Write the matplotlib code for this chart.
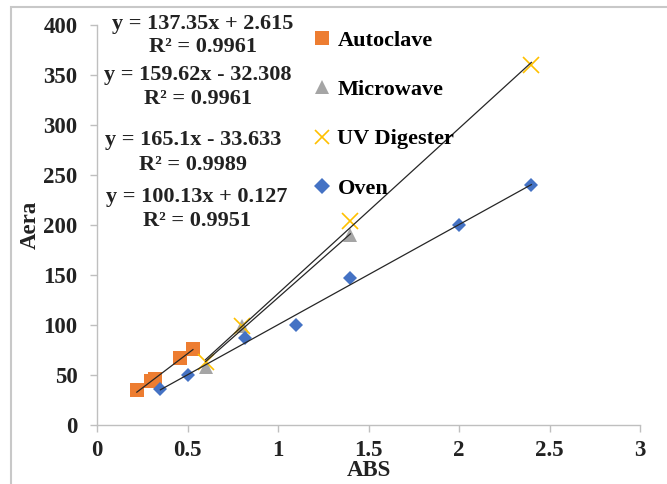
import matplotlib.pyplot as plt
import matplotlib.patches as patches
import numpy as np

# data
autoclave_x = [0.22, 0.30, 0.32, 0.46, 0.53]
autoclave_y = [35, 44, 46, 67, 76]
microwave_x = [0.6, 0.8, 1.4]
microwave_y = [58, 99, 190]
uv_x = [0.6, 0.8, 1.4, 2.4]
uv_y = [63, 99, 204, 360]
oven_x = [0.35, 0.5, 0.82, 1.1, 1.4, 2.0, 2.4]
oven_y = [36, 50, 87, 100, 147, 200, 240]

# trendline coefficients (slope, intercept, r2) as printed
fits = {
    "Autoclave": (137.35, 2.615, 0.9961),
    "Microwave": (159.62, -32.308, 0.9961),
    "UV Digester": (165.1, -33.633, 0.9989),
    "Oven": (100.13, 0.127, 0.9951),
}

plt.rcParams['font.family'] = 'Liberation Serif'
plt.rcParams['font.weight'] = 'bold'
FS = 16

W, H = 667, 484
fig = plt.figure(figsize=(W / 100, H / 100), dpi=100)
ax = fig.add_axes([97 / W, 1 - 425 / H, (640 - 97) / W, (425 - 25) / H])

series = [
    ("Autoclave", autoclave_x, autoclave_y, 's', '#ED7D31', 10),
    ("Microwave", microwave_x, microwave_y, '^', '#A5A5A5', 9.5),
    ("UV Digester", uv_x, uv_y, 'x', '#FFC000', 11),
    ("Oven", oven_x, oven_y, 'D', '#4472C4', 7.5),
]

for name, xs, ys, m, c, ms in series:
    ax.plot(xs, ys, linestyle='none', marker=m, color=c, markersize=ms,
            markeredgewidth=1.2 if m == 'x' else 0, label=name, zorder=3)

for name, xs, ys, m, c, ms in series:
    a, b, r2 = fits[name]
    xx = np.array([min(xs), max(xs)])
    ax.plot(xx, a * xx + b, color='#262626', linewidth=0.9, zorder=4)

ax.set_xlim(0, 3)
ax.set_ylim(0, 400)
ax.set_xticks(np.arange(0, 3.01, 0.5))
ax.set_xticklabels(['0', '0.5', '1', '1.5', '2', '2.5', '3'])
ax.set_yticks(np.arange(0, 401, 50))
for s in ['top', 'right']:
    ax.spines[s].set_visible(False)
for s in ['left', 'bottom']:
    ax.spines[s].set_color('#BFBFBF')
    ax.spines[s].set_linewidth(1.0)
ax.tick_params(axis='both', colors='#BFBFBF', length=5, width=1.0,
               labelcolor='#222222', labelsize=FS + 0.5)
ax.tick_params(axis='y', pad=9)
ax.tick_params(axis='x', pad=6)

ax.set_xlabel('ABS', fontsize=FS + 0.5, fontweight='bold', color='#222222', labelpad=-1)
ax.set_ylabel('Aera', fontsize=FS + 0.5, fontweight='bold', color='#222222', labelpad=2)

leg = ax.legend(loc='upper left', bbox_to_anchor=(313 / W, 1 - 30 / H),
                bbox_transform=fig.transFigure, frameon=False,
                prop={'family': 'Liberation Serif', 'weight': 'bold', 'size': FS},
                labelspacing=1.3, handlelength=0.8, handletextpad=0.3,
                borderaxespad=0, borderpad=0)
for h, ms in zip(leg.legend_handles, [9.5, 9.5, 10, 8]):
    h.set_markersize(ms)

# equation labels
eq_pos = [(203, 24, 47), (198, 75, 99), (193, 140, 165), (197, 197, 221)]
for (name, *_), (cx, y1, y2) in zip(series, eq_pos):
    a, b, r2 = fits[name]
    sign = '+' if b >= 0 else '-'
    fig.text(cx / W, 1 - y1 / H, f"y = {a:g}x {sign} {abs(b):g}", ha='center', va='center',
             fontsize=FS, fontweight='bold', color='#222222')
    fig.text(cx / W, 1 - y2 / H, f"R² = {r2:.4f}", ha='center', va='center',
             fontsize=FS, fontweight='bold', color='#222222')

# outer chart border (cropped at right and bottom)
fig.patches.append(patches.Rectangle((11 / W, -0.1), 1.2, 1 - 7 / H + 0.1,
                                     transform=fig.transFigure, fill=False,
                                     edgecolor='#C8C8C8', linewidth=1.5))

fig.savefig('out.png', dpi=100)
